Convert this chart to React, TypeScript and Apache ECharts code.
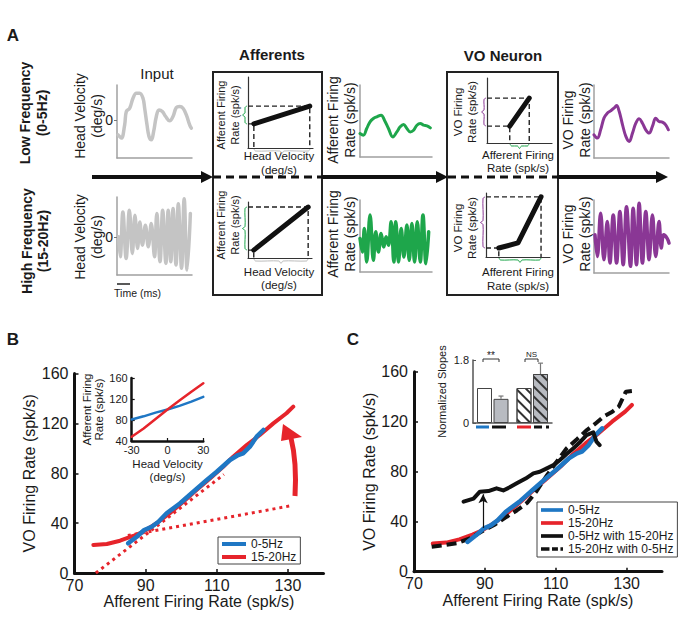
import React, { useEffect, useRef } from "react";
import * as echarts from "echarts";

const FONT = "'Liberation Sans', Arial, Helvetica, sans-serif";
const INK = "#1a1a1a";
const BLUE = "#1f77c4";
const RED = "#e6242b";
const GREEN = "#1ea64b";
const PURPLE = "#8a3795";
const WAVE_GRAY = "#c4c4c4";
const AXIS_GRAY = "#a0a0a0";

// ---------- Panel A: input head-velocity traces ----------
const inputLowT = [0.3, 1.3, 2.3, 2.8, 3.8, 4.8, 5.8, 6.8, 7.8, 8.3, 9, 9.6, 10.3, 11, 11.8, 12.6, 13.6, 14.6, 15.8, 16.8, 17.8, 18.8, 19.8, 20.8, 21.8, 22.3];
const inputLowV = [-4.5, -5.5, -1.5, 2.5, 3.5, 6.5, 8, 8, 6.5, 3.5, -1.5, -5, -6, -3.5, 1, 3, 2.5, 1, -0.3, 1, 3.7, 4, 3.5, 1.5, -1.5, -2.5];
const inputHighT = [0.5, 1.0, 1.8, 2.8, 3.8, 4.7, 5.5, 6.3, 7, 7.8, 8.7, 9.6, 10.5, 11.5, 12.2, 13.2, 14, 15, 15.7, 16.5, 17.2, 18.1, 18.8, 19.8, 20.6, 21.5, 22.5];
const inputHighV = [0, -6, 7.5, -6.5, 8, -5, 6.5, -3.5, 4.5, -2.5, 3.5, -3, 4, -6, 7, -7.5, 8, -8, 8, -7.5, 8.5, -8.5, 10, -9.5, 11.5, -10, 7];

// ---------- Panel A: afferent firing-rate traces ----------
const aLowT = [0, 1, 2, 3, 4, 5, 6.3, 7.3, 8.5, 9.8, 11, 12, 13, 14, 15, 16, 17, 18, 19, 20, 21];
const aLowR = [7, 6.5, 8.5, 10.5, 11.5, 12, 12.5, 11, 8.5, 6, 7.5, 9, 9.7, 8.5, 7.5, 8, 9.5, 10, 9.5, 9.3, 8.7];
const aHighT = [0, 0.7, 1.3, 2, 3, 4, 4.7, 5.5, 6.3, 7.1, 7.8, 8.5, 9.3, 10.1, 10.7, 11.5, 12.3, 13.1, 14, 14.7, 15.5, 16.3, 17.1, 18, 18.8, 19.7, 20.5];
const aHighR = [10, 6, 13, 3, 17, 3.5, 12, 6, 11.5, 7.5, 10.5, 8, 15, 3, 15, 3, 13, 4.5, 14, 3.5, 14.5, 3, 15, 3, 17, 2.5, 12];

// ---------- Panel A: VO firing-rate traces ----------
const voLowT = [0, 1, 2, 3, 4, 5, 6, 6.8, 7.6, 8.6, 9.6, 10.6, 11.6, 12.6, 13.6, 14.6, 15.6, 16.6, 17.6, 18.6, 19.6, 20.6, 21.6, 22.4];
const voLowR = [7, 6, 8.5, 12, 13.5, 14.2, 15, 15.8, 14, 10, 6.5, 5, 7.5, 10.5, 11.8, 10.5, 8.5, 7.5, 9.5, 12, 11, 10.8, 10, 8.5];
const voHighT = [0.3, 1, 2, 3, 4, 4.8, 5.8, 6.8, 7.8, 8.8, 9.8, 11, 11.8, 12.8, 13.6, 14.6, 15.6, 16.6, 17.6, 18.6, 19.6, 20.3, 21, 22, 22.6];
const voHighR = [11.5, 5, 18, 4, 15.5, 3, 17.5, 3, 18.5, 2.5, 20, 2, 19.5, 2.5, 21, 3, 18.5, 4, 17.5, 5, 15.5, 7.5, 11.5, 10.5, 9];

// ---------- Panel A: schematic transfer functions (0-10 units) ----------
const affLowCurve = [[0.9, 3.4], [9.5, 5.9]];
const affHighCurve = [[0.9, 1.4], [9.4, 9.1]];
const voLowCurve = [[3.5, 2.6], [6.5, 6.9]];
const voHighCurve = [[2.0, 1.4], [5.0, 2.2], [8.6, 9.4]];

// ---------- Panels B & C: VO vs afferent firing rate ----------
const afferentTicks = [70, 90, 110, 130];
const voTicks = [0, 40, 80, 120, 160];
const lowAff = [85.1, 87.5, 89.6, 91.7, 93.6, 95.9, 99.7, 103.4, 107.2, 110, 113.7, 116, 117.4, 119.3, 121.2, 123.1];
const lowVO = [23.8, 29.1, 34.5, 37.1, 41.1, 47.9, 55.9, 65.2, 74.6, 81.2, 90.6, 94.6, 96, 101.3, 109.3, 114.7];
const highAff = [75.3, 79.1, 82.8, 86.5, 89.3, 93.1, 96.8, 100.6, 104.3, 108.1, 111.8, 114.6, 118.4, 122.1, 125.9, 129.6, 131.5];
const highVO = [22.5, 23.3, 25.9, 29.7, 33.1, 39.9, 47.9, 57.2, 66.6, 75.9, 85.2, 93.3, 102.6, 110.7, 120, 128.1, 133.4];
const steepFitAff = [76, 112];
const steepFitVO = [0, 79];
const shallowFitAff = [85, 131];
const shallowFitVO = [30, 54];

// inset B: afferent firing vs head velocity
const insetVel = [-30, -20, -10, 0, 10, 20, 30];
const insetLow = [81, 87, 94, 100, 107, 115, 124];
const insetHigh = [48, 64, 82, 100, 117, 134, 150];

// panel C: combined stimulation
const lowWithHighAff = [84, 86.8, 88.6, 91, 93.3, 95.2, 97, 99, 101.5, 103.7, 105.5, 107.5, 109.5, 111.2, 113, 115, 117, 118.7, 120.6, 121.5, 122.4];
const lowWithHighVO = [56, 58.5, 64, 64.5, 66.7, 65, 67.5, 70.7, 74.5, 78.7, 80, 82.7, 85.5, 89.4, 94, 98.7, 104, 109.3, 111.5, 104, 101.3];
const highWithLowAff = [75, 78, 82, 86, 89.6, 93, 96.2, 99, 101.9, 104.5, 107.5, 110, 113.1, 116, 118.8, 121, 123.5, 126, 127.8, 128.8, 129.8, 131.5];
const highWithLowVO = [20, 21, 22.7, 27, 33, 38, 44, 49, 55, 64, 77, 87, 98.7, 106, 113.3, 118, 124, 128, 132, 138, 144, 144.5];
const shiftArrowAff = 89.5;
const shiftArrowFrom = 35;
const shiftArrowTo = 62;

// inset C: normalized slopes
const slopeGroups = ["0-5Hz", "15-20Hz"];
const slopeAlone = [1.0, 1.0];
const slopeCombined = [0.69, 1.4];
const slopeCombinedErr = [0.77, 1.71];
const slopeTicks = [0, 1.8];

const zip = (xs: number[], ys: number[]) => xs.map((x, i) => [x, ys[i]]);

const grids = [
  { left: 117, top: 85, width: 75, height: 73 },
  { left: 117, top: 197, width: 75, height: 78 },
  { left: 360, top: 85, width: 72, height: 72 },
  { left: 360, top: 200, width: 72, height: 72 },
  { left: 594, top: 85, width: 75, height: 73 },
  { left: 594, top: 200, width: 75, height: 73 },
  { left: 248, top: 77, width: 65, height: 71 },
  { left: 248, top: 202, width: 64, height: 56 },
  { left: 487, top: 78, width: 65, height: 65 },
  { left: 486, top: 193, width: 64, height: 64 },
  { left: 74.5, top: 373.5, width: 249, height: 199.5 },
  { left: 131.7, top: 378, width: 71.6, height: 63 },
  { left: 414, top: 371.7, width: 248, height: 200 },
  { left: 473, top: 360, width: 79, height: 63 },
].map((g) => ({ ...g, outerBoundsMode: "none", containLabel: false }));

const plainAxis = (gi: number, min: number, max: number, color: string, width: number) => ({
  gridIndex: gi,
  type: "value",
  min,
  max,
  axisLine: { show: true, onZero: false, lineStyle: { color, width } },
  axisTick: { show: false },
  axisLabel: { show: false },
  splitLine: { show: false },
});

const txt = { color: INK, fontFamily: FONT };

const zeroLabelY = (gi: number, min: number, max: number) => ({
  ...plainAxis(gi, min, max, AXIS_GRAY, 1.5),
  axisLabel: { show: true, customValues: [0], fontSize: 14, margin: 4, ...txt },
  axisTick: { show: true, customValues: [0], length: 3, lineStyle: { color: "#777", width: 1 } },
});

const mainAxisX = (gi: number) => ({
  gridIndex: gi,
  type: "value",
  min: 70,
  max: 140,
  axisLine: { show: true, onZero: false, lineStyle: { color: "#111", width: 3 } },
  axisTick: { show: true, inside: true, length: 4, customValues: afferentTicks, lineStyle: { color: "#111", width: 1.5 } },
  axisLabel: { show: true, customValues: afferentTicks, fontSize: 16, margin: 4, showMinLabel: true, ...txt },
  splitLine: { show: false },
  name: "Afferent Firing Rate (spk/s)",
  nameLocation: "middle",
  nameGap: 20,
  nameTextStyle: { fontSize: 16, ...txt },
});

const mainAxisY = (gi: number) => ({
  gridIndex: gi,
  type: "value",
  min: 0,
  max: 160,
  axisLine: { show: true, onZero: false, lineStyle: { color: "#111", width: 3 } },
  axisTick: { show: true, inside: true, length: 4, customValues: voTicks, lineStyle: { color: "#111", width: 1.5 } },
  axisLabel: { show: true, customValues: voTicks, fontSize: 16, margin: 6, showMinLabel: true, ...txt },
  splitLine: { show: false },
  name: "VO Firing Rate (spk/s)",
  nameLocation: "middle",
  nameGap: 33,
  nameTextStyle: { fontSize: 16, ...txt },
});

const xAxes: any[] = [
  plainAxis(0, 0, 22.5, AXIS_GRAY, 1.5),
  plainAxis(1, 0, 23, AXIS_GRAY, 1.5),
  plainAxis(2, 0, 21.5, AXIS_GRAY, 1.5),
  plainAxis(3, 0, 21.5, AXIS_GRAY, 1.5),
  plainAxis(4, 0, 22.6, AXIS_GRAY, 1.5),
  plainAxis(5, 0, 22.6, AXIS_GRAY, 1.5),
  plainAxis(6, 0, 10, "#333", 1.2),
  plainAxis(7, 0, 10, "#333", 1.2),
  plainAxis(8, 0, 10, "#333", 1.2),
  plainAxis(9, 0, 10, "#333", 1.2),
  mainAxisX(10),
  {
    gridIndex: 11,
    type: "value",
    min: -30,
    max: 30,
    interval: 30,
    axisLine: { show: true, onZero: false, lineStyle: { color: "#111", width: 2.5 } },
    axisTick: { show: true, inside: true, length: 3, lineStyle: { color: "#111", width: 1.2 } },
    axisLabel: { show: true, fontSize: 11, margin: 3, showMinLabel: true, ...txt },
    splitLine: { show: false },
    name: "Head Velocity\n(deg/s)",
    nameLocation: "middle",
    nameGap: 16,
    nameTextStyle: { fontSize: 11.5, lineHeight: 13, ...txt },
  },
  mainAxisX(12),
  {
    gridIndex: 13,
    type: "category",
    data: slopeGroups,
    axisLine: { show: true, onZero: false, lineStyle: { color: "#555", width: 1.5 } },
    axisTick: { show: false },
    axisLabel: { show: false },
    splitLine: { show: false },
  },
];

const yAxes: any[] = [
  zeroLabelY(0, -11.5, 10.5),
  zeroLabelY(1, -11.5, 12),
  plainAxis(2, 0, 21.5, AXIS_GRAY, 1.5),
  plainAxis(3, 0, 21.5, AXIS_GRAY, 1.5),
  plainAxis(4, 0, 22, AXIS_GRAY, 1.5),
  plainAxis(5, 0, 22, AXIS_GRAY, 1.5),
  plainAxis(6, 0, 10, "#333", 1.2),
  plainAxis(7, 0, 10, "#333", 1.2),
  plainAxis(8, 0, 10, "#333", 1.2),
  plainAxis(9, 0, 10, "#333", 1.2),
  mainAxisY(10),
  {
    gridIndex: 11,
    type: "value",
    min: 40,
    max: 160,
    interval: 40,
    axisLine: { show: true, onZero: false, lineStyle: { color: "#111", width: 2.5 } },
    axisTick: { show: true, inside: true, length: 3, lineStyle: { color: "#111", width: 1.2 } },
    axisLabel: { show: true, fontSize: 11, margin: 4, showMinLabel: true, ...txt },
    splitLine: { show: false },
    name: "Afferent Firing\nRate (spk/s)",
    nameLocation: "middle",
    nameGap: 23,
    nameTextStyle: { fontSize: 11.5, lineHeight: 12, ...txt },
  },
  mainAxisY(12),
  {
    gridIndex: 13,
    type: "value",
    min: 0,
    max: 1.8,
    axisLine: { show: true, onZero: false, lineStyle: { color: "#555", width: 1.5 } },
    axisTick: { show: true, inside: true, length: 3, customValues: slopeTicks, lineStyle: { color: "#555" } },
    axisLabel: { show: true, customValues: slopeTicks, fontSize: 11, margin: 4, showMinLabel: true, ...txt },
    splitLine: { show: false },
    name: "Normalized Slopes",
    nameLocation: "middle",
    nameGap: 26,
    nameTextStyle: { fontSize: 11, ...txt },
  },
];

const trace = (gi: number, data: number[][], color: string, width: number, extra: any = {}) => ({
  type: "line",
  xAxisIndex: gi,
  yAxisIndex: gi,
  data,
  symbol: "none",
  silent: true,
  color,
  lineStyle: { color, width, cap: "round", join: "round" },
  ...extra,
});

const schematic = (gi: number, pts: number[][]) => {
  const first = pts[0];
  const last = pts[pts.length - 1];
  const dash = { color: "#222", width: 1.4, type: [5, 3] };
  return [
    { ...trace(gi, [[0, last[1]], [last[0], last[1]], [last[0], 0]], "#222", 1.4), lineStyle: dash },
    { ...trace(gi, [[0, first[1]], [first[0], first[1]], [first[0], 0]], "#222", 1.4), lineStyle: dash },
    trace(gi, pts, "#111", 5),
  ];
};

const HATCH = {
  symbol: "rect",
  symbolSize: 1,
  color: "#333",
  dashArrayX: [1, 0],
  dashArrayY: [1.2, 5],
  rotation: Math.PI / 4,
};

const series: any[] = [
  trace(0, zip(inputLowT, inputLowV), WAVE_GRAY, 3.5, { smooth: 0.4 }),
  trace(1, zip(inputHighT, inputHighV), WAVE_GRAY, 3.5, { smooth: 0.4 }),
  trace(2, zip(aLowT, aLowR), GREEN, 3, { smooth: 0.4 }),
  trace(3, zip(aHighT, aHighR), GREEN, 3.5, { smooth: 0.4 }),
  trace(4, zip(voLowT, voLowR), PURPLE, 3, { smooth: 0.4 }),
  trace(5, zip(voHighT, voHighR), PURPLE, 3.5, { smooth: 0.4 }),
  ...schematic(6, affLowCurve),
  ...schematic(7, affHighCurve),
  ...schematic(8, voLowCurve),
  ...schematic(9, voHighCurve),
  // Panel B
  { ...trace(10, zip(steepFitAff, steepFitVO), RED, 3), lineStyle: { color: RED, width: 3, type: [3, 4] } },
  { ...trace(10, zip(shallowFitAff, shallowFitVO), RED, 3), lineStyle: { color: RED, width: 3, type: [3, 4] } },
  { ...trace(10, zip(highAff, highVO), RED, 4), name: "15-20Hz" },
  { ...trace(10, zip(lowAff, lowVO), BLUE, 4.5), name: "0-5Hz" },
  trace(11, zip(insetVel, insetLow), BLUE, 2.5),
  trace(11, zip(insetVel, insetHigh), RED, 2.5),
  // Panel C
  { ...trace(12, zip(highAff, highVO), RED, 4), name: "15-20Hz" },
  {
    ...trace(12, zip(highWithLowAff, highWithLowVO), "#111", 4),
    name: "15-20Hz with 0-5Hz",
    lineStyle: { color: "#111", width: 4, type: [10, 5] },
  },
  { ...trace(12, zip(lowAff, lowVO), BLUE, 4.5), name: "0-5Hz" },
  {
    ...trace(12, zip(lowWithHighAff, lowWithHighVO), "#111", 4),
    name: "0-5Hz with 15-20Hz",
    markLine: {
      silent: true,
      symbol: ["none", "arrow"],
      symbolSize: [7, 9],
      label: { show: false },
      lineStyle: { color: "#111", width: 1.2, type: "solid" },
      data: [[{ coord: [shiftArrowAff, shiftArrowFrom] }, { coord: [shiftArrowAff, shiftArrowTo] }]],
    },
  },
  // inset C bars
  {
    type: "bar",
    name: "alone",
    xAxisIndex: 13,
    yAxisIndex: 13,
    barWidth: 15,
    barGap: "10%",
    silent: true,
    data: slopeAlone.map((v, i) => ({
      value: v,
      itemStyle: { color: "#ffffff", borderColor: "#444", borderWidth: 1, ...(i === 1 ? { decal: HATCH } : {}) },
    })),
  },
  {
    type: "bar",
    name: "combined",
    xAxisIndex: 13,
    yAxisIndex: 13,
    barWidth: 15,
    barGap: "10%",
    silent: true,
    data: slopeCombined.map((v, i) => ({
      value: v,
      itemStyle: { color: "#b8bbc1", borderColor: "#444", borderWidth: 1, ...(i === 1 ? { decal: HATCH } : {}) },
    })),
  },
  {
    type: "custom",
    xAxisIndex: 13,
    yAxisIndex: 13,
    silent: true,
    data: slopeGroups.map((_, i) => [i, slopeCombined[i], slopeCombinedErr[i]]),
    renderItem: (_params: any, api: any) => {
      const lo = api.coord([api.value(0), api.value(1)]);
      const hi = api.coord([api.value(0), api.value(2)]);
      const off = 8.25;
      const st = { stroke: "#777", lineWidth: 1.2 };
      return {
        type: "group",
        children: [
          { type: "line", shape: { x1: lo[0] + off, y1: lo[1], x2: hi[0] + off, y2: hi[1] }, style: st },
          { type: "line", shape: { x1: hi[0] + off - 2.5, y1: hi[1], x2: hi[0] + off + 2.5, y2: hi[1] }, style: st },
        ],
      };
    },
  },
];

// ---------- graphics (labels, boxes, arrows, braces) ----------
const T = (text: string, x: number, y: number, size: number, o: any = {}) => ({
  type: "text",
  x,
  y,
  rotation: o.rot ? Math.PI / 2 : 0,
  silent: true,
  style: {
    text,
    fontSize: size,
    fontFamily: FONT,
    fontWeight: o.bold ? "bold" : "normal",
    fill: INK,
    align: o.align || "center",
    verticalAlign: "middle",
    lineHeight: o.lh || size * 1.2,
  },
});
const L = (x1: number, y1: number, x2: number, y2: number, stroke: string, lineWidth: number, dash?: number[]) => ({
  type: "line",
  silent: true,
  shape: { x1, y1, x2, y2 },
  style: { stroke, lineWidth, lineDash: dash },
});
const head = (x: number, y: number) => ({
  type: "polygon",
  silent: true,
  shape: { points: [[x - 12, y - 6], [x, y], [x - 12, y + 6]] },
  style: { fill: "#111" },
});
const vBrace = (x: number, y1: number, y2: number, color: string) => {
  const m = (y1 + y2) / 2;
  return {
    type: "polyline",
    silent: true,
    shape: { points: [[x + 3, y1], [x + 1, y1 + 1.5], [x + 1, m - 2], [x - 1.5, m], [x + 1, m + 2], [x + 1, y2 - 1.5], [x + 3, y2]], smooth: 0.3 },
    style: { stroke: color, lineWidth: 1, fill: null },
  };
};
const hBrace = (x1: number, x2: number, y: number, color: string) => {
  const m = (x1 + x2) / 2;
  return {
    type: "polyline",
    silent: true,
    shape: { points: [[x1, y - 3], [x1 + 1.5, y - 1], [m - 2, y - 1], [m, y + 1.5], [m + 2, y - 1], [x2 - 1.5, y - 1], [x2, y - 3]], smooth: 0.3 },
    style: { stroke: color, lineWidth: 1, fill: null },
  };
};

const graphics: any[] = [
  T("A", 13, 35, 17, { bold: true }),
  T("B", 13, 339, 17, { bold: true }),
  T("C", 353, 339, 17, { bold: true }),
  T("Low Frequency\n(0-5Hz)", 33.5, 113, 14, { bold: true, rot: true, lh: 17 }),
  T("High Frequency\n(15-20Hz)", 35, 241, 14, { bold: true, rot: true, lh: 16 }),
  T("Input", 157, 73, 15),
  T("Head Velocity\n(deg/s)", 88.5, 116, 14, { rot: true, lh: 17 }),
  T("Head Velocity\n(deg/s)", 88, 237, 14, { rot: true, lh: 17 }),
  T("Time (ms)", 137.5, 293, 10.5),
  L(117, 284, 130, 284, "#222", 1.5),
  T("Afferents", 272, 54, 15, { bold: true }),
  T("VO Neuron", 503, 55, 15, { bold: true }),
  { type: "rect", silent: true, shape: { x: 213, y: 72, width: 109, height: 223 }, style: { fill: null, stroke: "#222", lineWidth: 2 } },
  { type: "rect", silent: true, shape: { x: 447, y: 72, width: 111, height: 223 }, style: { fill: null, stroke: "#222", lineWidth: 2 } },
  T("Afferent Firing\nRate (spk/s)", 228, 115, 11, { rot: true, lh: 14 }),
  T("Afferent Firing\nRate (spk/s)", 228, 225, 11, { rot: true, lh: 14 }),
  T("Head Velocity\n(deg/s)", 279, 163, 11.5, { lh: 14 }),
  T("Head Velocity\n(deg/s)", 279, 278, 11.5, { lh: 13 }),
  T("Afferent Firing\nRate (spk/s)", 341.5, 120, 14, { rot: true, lh: 17 }),
  T("Afferent Firing\nRate (spk/s)", 341.5, 234, 14, { rot: true, lh: 17 }),
  T("VO Firing\nRate (spk/s)", 465, 112, 11.5, { rot: true, lh: 14 }),
  T("VO Firing\nRate (spk/s)", 465, 228, 11.5, { rot: true, lh: 14 }),
  T("Afferent Firing\nRate (spk/s)", 518, 161.5, 11.5, { lh: 13 }),
  T("Afferent Firing\nRate (spk/s)", 518, 279, 11.5, { lh: 14 }),
  T("VO Firing\nRate (spk/s)", 576, 120, 14, { rot: true, lh: 17 }),
  T("VO Firing\nRate (spk/s)", 576, 234, 14, { rot: true, lh: 17 }),
  // braces
  vBrace(244, 106, 124, GREEN),
  hBrace(254, 310, 152, "#bdbdbd"),
  vBrace(244, 207, 250, GREEN),
  hBrace(254, 308, 262, "#bdbdbd"),
  vBrace(483, 98, 126, PURPLE),
  hBrace(510, 529, 147, GREEN),
  vBrace(482, 197, 248, PURPLE),
  hBrace(499, 541, 261, GREEN),
  // signal-flow arrow
  L(92, 177, 202, 177, "#111", 4),
  head(213, 177),
  L(213, 177, 322, 177, "#111", 3, [8, 5]),
  L(322, 177, 437, 177, "#111", 4),
  head(448, 177),
  L(448, 177, 557, 177, "#111", 3, [8, 5]),
  L(557, 177, 657, 177, "#111", 4),
  head(668, 177),
  // red gain arrow in B
  {
    type: "bezierCurve",
    silent: true,
    shape: { x1: 295, y1: 496, cpx1: 297, cpy1: 462, x2: 291, y2: 438 },
    style: { stroke: RED, lineWidth: 5, fill: null },
  },
  { type: "polygon", silent: true, shape: { points: [[283, 424], [281, 441], [302, 437]] }, style: { fill: RED } },
  // significance in inset C
  { type: "polyline", silent: true, shape: { points: [[483, 362], [483, 359], [499, 359], [499, 362]] }, style: { stroke: "#333", lineWidth: 1, fill: null } },
  T("**", 491, 355, 10),
  { type: "polyline", silent: true, shape: { points: [[525, 362], [525, 359], [538, 359], [538, 362]] }, style: { stroke: "#333", lineWidth: 1, fill: null } },
  T("NS", 531.5, 354, 8),
  // condition keys under bars
  L(476, 427, 489, 427, BLUE, 3),
  L(492, 427, 506, 427, "#111", 3),
  L(517, 427, 531, 427, RED, 3),
  L(534, 427, 542, 427, "#111", 3),
  L(546, 427, 549, 427, "#111", 3),
];

const SOLID_ICON = "path://M0,0H24V4H0Z";
const DASH_ICON = "path://M0,0H10V4H0Z M13,0H20V4H13Z M23,0H26V4H23Z";

const legendBase = {
  orient: "vertical",
  itemHeight: 4,
  selectedMode: false,
  borderColor: "#444",
  borderWidth: 1,
  backgroundColor: "#fff",
  textStyle: { fontSize: 12, color: INK, fontFamily: FONT, lineHeight: 12 },
};

const option: any = {
  animation: false,
  backgroundColor: "#ffffff",
  textStyle: { fontFamily: FONT, color: INK },
  grid: grids,
  xAxis: xAxes,
  yAxis: yAxes,
  series,
  legend: [
    {
      ...legendBase,
      left: 218,
      top: 537,
      itemWidth: 24,
      itemGap: 1,
      padding: [1, 4, 1, 4],
      data: [
        { name: "0-5Hz", icon: SOLID_ICON },
        { name: "15-20Hz", icon: SOLID_ICON },
      ],
    },
    {
      ...legendBase,
      left: 537,
      top: 502,
      itemWidth: 22,
      itemGap: 1,
      padding: [2, 4, 2, 4],
      data: [
        { name: "0-5Hz", icon: SOLID_ICON },
        { name: "15-20Hz", icon: SOLID_ICON },
        { name: "0-5Hz with 15-20Hz", icon: SOLID_ICON },
        { name: "15-20Hz with 0-5Hz", icon: DASH_ICON },
      ],
    },
  ],
  graphic: { elements: graphics },
};

export default function App() {
  const ref = useRef<HTMLDivElement>(null);
  useEffect(() => {
    if (!ref.current) return;
    const chart = echarts.init(ref.current, null, { renderer: "svg" });
    chart.setOption(option);
    return () => chart.dispose();
  }, []);
  return (
    <div
      ref={ref}
      style={{ position: "absolute", left: 0, top: 0, width: 683, height: 640, background: "#fff" }}
    />
  );
}
